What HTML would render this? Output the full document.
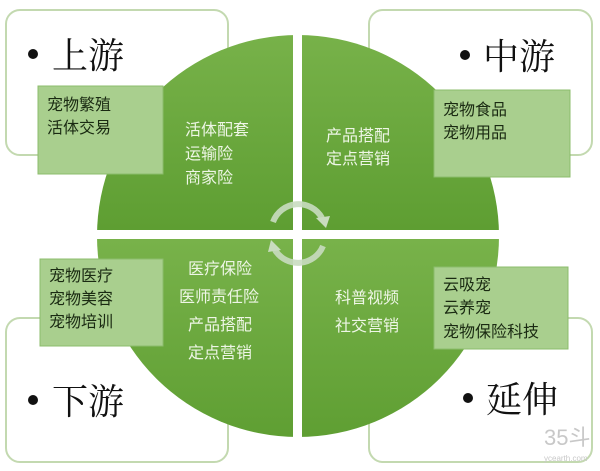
<!DOCTYPE html>
<html><head><meta charset="utf-8"><style>
body{margin:0;background:#fff;}
svg{display:block;}
.big{font-family:"Liberation Serif","Noto Serif CJK SC",serif;font-size:36px;fill:#111;}
.s{font-family:"Liberation Sans","Noto Sans CJK SC",sans-serif;font-size:16px;}
.w{fill:#eef6e6;}
.d{fill:#1a2a12;}
</style></head><body>
<svg width="600" height="471" viewBox="0 0 600 471" xmlns="http://www.w3.org/2000/svg">
<defs>
<linearGradient id="g" x1="0" y1="0" x2="0" y2="1">
<stop offset="0" stop-color="#78b24a"/><stop offset="1" stop-color="#5e9e32"/>
</linearGradient>
<clipPath id="c"><circle cx="298" cy="236" r="201"/></clipPath>
</defs>
<!-- cards -->
<rect x="6" y="10" width="222" height="145" rx="14" fill="#fff" stroke="#c3d9b0" stroke-width="2"/>
<rect x="369" y="10" width="223" height="145" rx="14" fill="#fff" stroke="#c3d9b0" stroke-width="2"/>
<rect x="6" y="318" width="222" height="144" rx="14" fill="#fff" stroke="#c3d9b0" stroke-width="2"/>
<rect x="369" y="318" width="223" height="144" rx="14" fill="#fff" stroke="#c3d9b0" stroke-width="2"/>
<!-- circle quadrants -->
<g clip-path="url(#c)" fill="url(#g)">
<rect x="90" y="30" width="203" height="200"/>
<rect x="302" y="30" width="205" height="200"/>
<rect x="90" y="239" width="203" height="205"/>
<rect x="302" y="239" width="205" height="205"/>
</g>
<!-- center arrows -->
<g fill="none" stroke="#c9dcc0" stroke-width="6" opacity="0.9">
<path d="M273 222 A27 27 0 0 1 322 218"/>
<path d="M323 246 A27 27 0 0 1 275 250"/>
</g>
<polygon points="316,218 330,216 326,228" fill="#c9dcc0"/>
<polygon points="281,250 268,252 271,240" fill="#c9dcc0"/>
<!-- green boxes -->
<rect x="38" y="86" width="125" height="88" fill="#a9cf8e" stroke="#8cbc6c"/>
<rect x="434" y="90" width="136" height="87" fill="#a9cf8e" stroke="#8cbc6c"/>
<rect x="40" y="259" width="123" height="87" fill="#a9cf8e" stroke="#8cbc6c"/>
<rect x="434" y="267" width="134" height="82" fill="#a9cf8e" stroke="#8cbc6c"/>
<!-- big labels -->
<circle cx="33" cy="54" r="5" fill="#111"/><text class="big" x="52" y="68">上游</text>
<circle cx="465" cy="55" r="5" fill="#111"/><text class="big" x="483" y="69">中游</text>
<circle cx="33" cy="400" r="5" fill="#111"/><text class="big" x="52" y="414">下游</text>
<circle cx="468" cy="398" r="5" fill="#111"/><text class="big" x="486" y="412">延伸</text>
<!-- box texts -->
<text class="s d" x="47" y="110">宠物繁殖</text><text class="s d" x="47" y="133">活体交易</text>
<text class="s d" x="443" y="115">宠物食品</text><text class="s d" x="443" y="138">宠物用品</text>
<text class="s d" x="49" y="281">宠物医疗</text><text class="s d" x="49" y="304">宠物美容</text><text class="s d" x="49" y="327">宠物培训</text>
<text class="s d" x="443" y="290">云吸宠</text><text class="s d" x="443" y="313">云养宠</text><text class="s d" x="443" y="337">宠物保险科技</text>
<!-- quadrant texts -->
<text class="s w" x="185" y="135">活体配套</text><text class="s w" x="185" y="159">运输险</text><text class="s w" x="185" y="183">商家险</text>
<text class="s w" x="326" y="141">产品搭配</text><text class="s w" x="326" y="164">定点营销</text>
<text class="s w" x="188" y="274">医疗保险</text><text class="s w" x="179" y="302">医师责任险</text><text class="s w" x="188" y="330">产品搭配</text><text class="s w" x="188" y="358">定点营销</text>
<text class="s w" x="335" y="303">科普视频</text><text class="s w" x="335" y="331">社交营销</text>
<!-- watermark -->
<text x="544" y="445" font-family="Liberation Sans,Noto Sans CJK SC,sans-serif" font-size="22" fill="#c8c8c8">35斗</text>
<text x="544" y="461" font-family="Liberation Sans,sans-serif" font-size="8" fill="#c8c8c8">ycearth.com</text>
</svg>
</body></html>
